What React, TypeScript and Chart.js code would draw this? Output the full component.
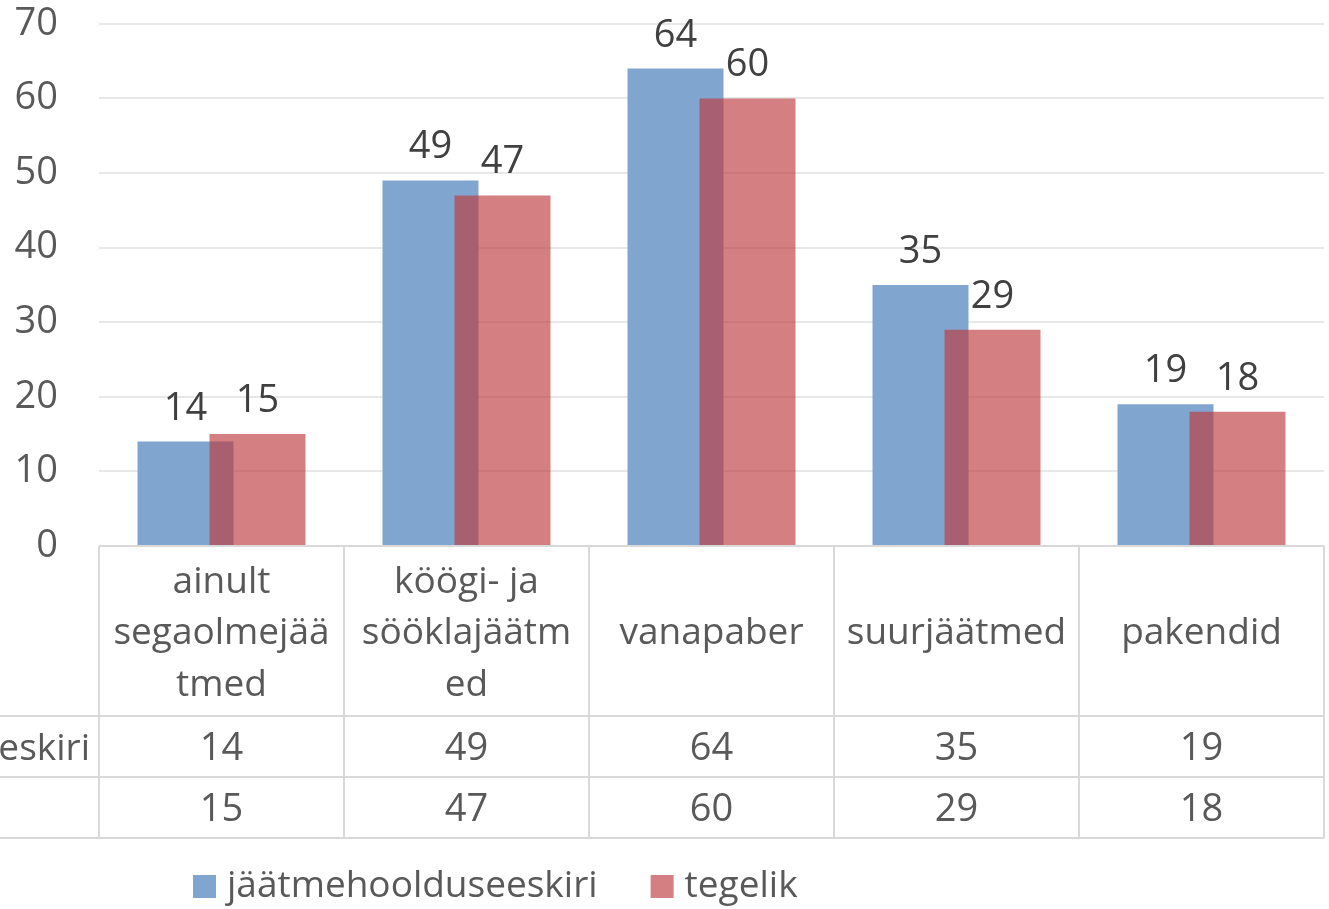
import React, { useEffect, useRef } from "react";
import { Chart, registerables } from "chart.js";

Chart.register(...registerables);

// ---- data ----
const categoryLines: string[][] = [
  ["ainult", "segaolmejää", "tmed"],
  ["köögi- ja", "sööklajäätm", "ed"],
  ["vanapaber"],
  ["suurjäätmed"],
  ["pakendid"],
];
const categories = categoryLines.map((l) => l.join(""));
const seriesNames = ["jäätmehoolduseeskiri", "tegelik"];
const plannedValues = [14, 49, 64, 35, 19];
const actualValues = [15, 47, 60, 29, 18];
const yMin = 0;
const yMax = 70;
const yStep = 10;

const FONT = '"Open Sans", "Noto Sans", sans-serif';
const BLUE = "rgb(128,166,207)";
const RED = "rgba(189,59,61,0.65)";
const TEXT = "#595959";
const LABEL = "#404040";
const LINE = "#d9d9d9";

// draw the second series on top of the first (Chart.js draws dataset 0 last by default)
const drawOrderPlugin = {
  id: "drawOrderPlugin",
  beforeDatasetDraw(chart: any, args: any) {
    if (args.index === 1) return false;
    return true;
  },
  afterDatasetsDraw(chart: any) {
    const meta = chart.getDatasetMeta(1);
    if (!meta.hidden) {
      const ctx = chart.ctx;
      const a = chart.chartArea;
      ctx.save();
      ctx.beginPath();
      ctx.rect(a.left, a.top - 2, a.right - a.left, a.bottom - a.top + 2);
      ctx.clip();
      meta.controller.draw();
      ctx.restore();
    }
  },
};

const tablePlugin = {
  id: "tablePlugin",
  afterDraw(chart: any) {
    const ctx = chart.ctx as CanvasRenderingContext2D;
    const xs = chart.scales.x;
    const area = chart.chartArea;
    const n = categories.length;
    const cw = (area.right - area.left) / n;
    const top = area.bottom;
    const headerBottom = top + 170;
    const rowH = 61;
    const rowBottoms = [headerBottom + rowH, headerBottom + 2 * rowH];
    const right = area.right;

    ctx.save();
    ctx.strokeStyle = LINE;
    ctx.lineWidth = 2;
    ctx.beginPath();
    ctx.moveTo(area.left, top);
    ctx.lineTo(right, top);
    [headerBottom, ...rowBottoms].forEach((y) => {
      ctx.moveTo(0, y);
      ctx.lineTo(right, y);
    });
    for (let i = 0; i <= n; i++) {
      const x = Math.round(area.left + i * cw);
      ctx.moveTo(x, top);
      ctx.lineTo(x, rowBottoms[1]);
    }
    ctx.stroke();

    // category labels
    ctx.fillStyle = TEXT;
    ctx.font = `37px ${FONT}`;
    ctx.textAlign = "center";
    ctx.textBaseline = "alphabetic";
    const headerMid = (top + headerBottom) / 2;
    categoryLines.forEach((lines, i) => {
      const cx = xs.getPixelForValue(i);
      lines.forEach((ln, j) => {
        const y = headerMid + 13 + (j - (lines.length - 1) / 2) * 51.5;
        ctx.fillText(ln, cx, y);
      });
    });

    // value rows
    const rows = [plannedValues, actualValues];
    ctx.font = `38px ${FONT}`;
    rows.forEach((vals, r) => {
      const yc = headerBottom + rowH * r + rowH / 2;
      vals.forEach((v, i) => {
        ctx.fillText(String(v), xs.getPixelForValue(i), yc + 13.5);
      });
    });

    // row labels (left-aligned, starting off-canvas as in the cropped original)
    ctx.textAlign = "left";
    ctx.font = `37px ${FONT}`;
    const startX = 90 - ctx.measureText(seriesNames[0]).width;
    seriesNames.forEach((name, r) => {
      const yc = headerBottom + rowH * r + rowH / 2;
      ctx.fillText(name, startX, yc + 13.5);
    });

    // legend
    const colors = [BLUE, RED];
    let lx = 193;
    const baseY = 897;
    seriesNames.forEach((name, k) => {
      ctx.fillStyle = colors[k];
      ctx.fillRect(lx, 875, 23, 23);
      ctx.fillStyle = TEXT;
      ctx.fillText(name, lx + 34, baseY);
      lx = lx + 34 + ctx.measureText(name).width + 53;
    });

    ctx.restore();
  },
};

const dataLabelPlugin = {
  id: "dataLabelPlugin",
  afterDatasetsDraw(chart: any) {
    const ctx = chart.ctx as CanvasRenderingContext2D;
    ctx.save();
    ctx.fillStyle = LABEL;
    ctx.font = `38px ${FONT}`;
    ctx.textAlign = "center";
    ctx.textBaseline = "alphabetic";
    chart.data.datasets.forEach((ds: any, di: number) => {
      const meta = chart.getDatasetMeta(di);
      meta.data.forEach((el: any, i: number) => {
        ctx.fillText(String(ds.data[i]), el.x, el.y - 22);
      });
    });
    ctx.restore();
  },
};

export default function App() {
  const ref = useRef<HTMLCanvasElement | null>(null);

  useEffect(() => {
    document.body.style.margin = "0";
    if (!ref.current) return;
    const chart = new Chart(ref.current, {
      type: "bar",
      data: {
        labels: categories,
        datasets: [
          {
            label: seriesNames[0],
            data: plannedValues,
            backgroundColor: BLUE,
            categoryPercentage: 0.5878,
            barPercentage: 1.3333,
          },
          {
            label: seriesNames[1],
            data: actualValues,
            backgroundColor: RED,
            categoryPercentage: 0.5878,
            barPercentage: 1.3333,
          },
        ],
      },
      options: {
        responsive: false,
        animation: false,
        layout: { padding: { top: 0, right: 5, left: 0, bottom: 0 } },
        plugins: {
          legend: { display: false },
          tooltip: { enabled: false },
        },
        scales: {
          x: {
            display: true,
            grid: { display: false },
            border: { display: false },
            ticks: { display: false },
            afterFit: (s: any) => {
              s.height = 363;
            },
          },
          y: {
            min: yMin,
            max: yMax,
            ticks: {
              stepSize: yStep,
              padding: 1,
              color: TEXT,
              font: { family: FONT, size: 38 },
            },
            grid: {
              color: "#e8e8e8",
              lineWidth: 2,
              drawTicks: true,
              tickLength: 40,
              tickColor: "rgba(0,0,0,0)",
            },
            border: { display: false },
            afterFit: (s: any) => {
              s.width = 99;
            },
          },
        },
      },
      plugins: [drawOrderPlugin, dataLabelPlugin, tablePlugin],
    });
    return () => chart.destroy();
  }, []);

  return (
    <div style={{ width: 1329, height: 909, background: "#fff" }}>
      <canvas ref={ref} width={1329} height={909} />
    </div>
  );
}
